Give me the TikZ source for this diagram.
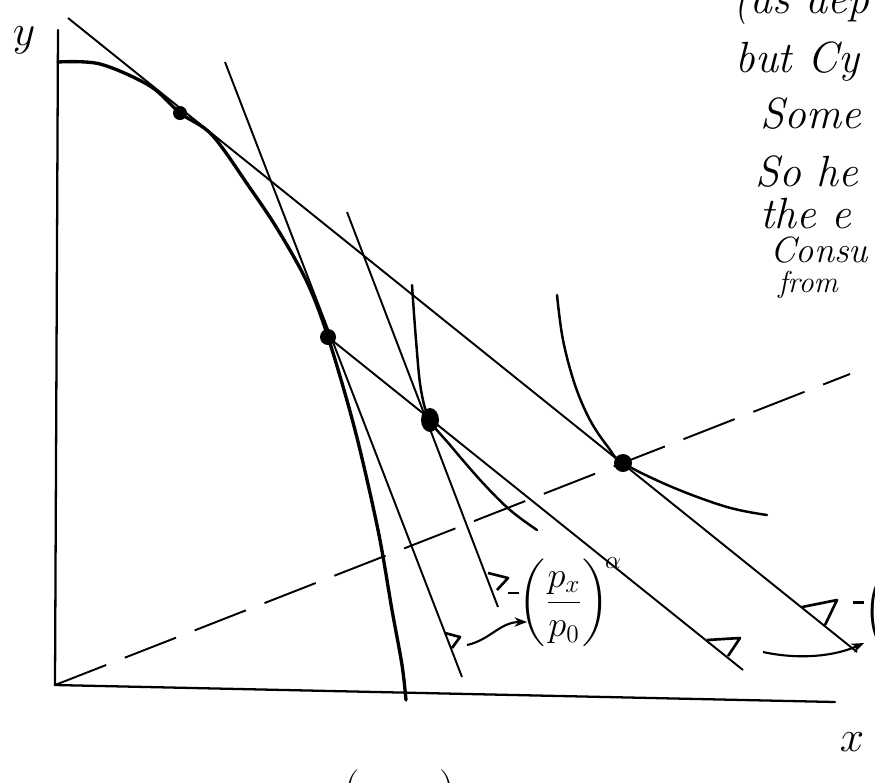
\documentclass[tikz,border=0pt]{standalone}
\usepackage{amsmath}
\usetikzlibrary{arrows.meta}

\begin{document}
\begin{tikzpicture}[
  x=0.02cm, y=-0.02cm,
  axis/.style={line width=1.3pt, line cap=round},
  budget/.style={line width=1.1pt},
  frontier/.style={line width=1.9pt, line cap=round},
  indiff/.style={line width=1.4pt, line cap=round},
  ray/.style={line width=1.1pt, dash pattern=on 1.1cm off 0.4cm},
  slopemark/.style={line width=1.5pt, line join=round},
  pointer/.style={-{Stealth[length=2.5mm]}, line width=1.2pt},
  hand/.style={font=\Huge\itshape, inner sep=0pt, anchor=base west}
]
\useasboundingbox (0,0) rectangle (875,782);

% tangency points
\coordinate (t1) at (180,113);
\coordinate (t2) at (328,337);
\coordinate (t3) at (430,420);
\coordinate (t4) at (623,463);
\coordinate (o) at (55,685);

% axes
\draw[axis] (58,30) -- (o) -- (835,702);
\node[font=\Huge] (ylab) at (24,40) {$y$};
\node[font=\Huge] (xlab) at (852,742) {$x$};

% ray from the origin
\draw[ray] (o) -- (850,374);

% frontier
\draw[frontier] plot[smooth, tension=0.55] coordinates {
  (58,62) (100,64) (150,86) (t1) (212,135) (250,188) (278,230)
  (307,282) (t2) (355,430) (378,530) (392,610) (402,665) (406,700)};

% price lines
\draw[budget] (68,18) -- (857,652);
\draw[budget] (t2) -- (743,670);
\draw[budget] (225,62) -- (462,677);
\draw[budget] (347,212) -- (498,607);

% indifference curves
\draw[indiff] plot[smooth, tension=0.6] coordinates {
  (412,285) (416,340) (421,390) (t3) (450,445) (482,482) (510,510) (537,530)};
\draw[indiff] plot[smooth, tension=0.6] coordinates {
  (557,295) (563,340) (575,385) (590,420) (608,447) (t4) (672,487) (727,507) (767,515)};

% dots
\fill (t1) circle [radius=7];
\fill (t2) circle [radius=8];
\fill (t3) ellipse [x radius=9, y radius=12];
\fill (t4) circle [radius=9];

% slope markers
\draw[slopemark] (488,573) -- (508,578) -- (497,590);
\draw[slopemark] (445,633) -- (460,637) -- (452,648);
\draw[slopemark] (707,640) -- (740,638) -- (728,656);
\draw[slopemark] (802,607) -- (837,600) -- (825,625);

% slope labels
\node[font=\huge, inner sep=0pt] (slope) at (565,602)
  {\rule[10pt]{6pt}{1.3pt}$\left(\dfrac{p_x}{p_0}\right)^{\!\alpha}$};
\node[font=\huge, inner sep=0pt, anchor=west] (slope2) at (853,612)
  {\rule[10pt]{6pt}{1.3pt}$\left(\dfrac{p_x}{p_0}\right)$};
\draw[pointer] (467,645) .. controls (490,640) and (500,622) .. (527,622);
\draw[pointer] (763,652) .. controls (800,660) and (835,656) .. (864,643);

% notes
\node[hand] (n0) at (733,13) {(as dep};
\node[hand] (n1) at (735,72) {but Cy};
\node[hand] (n2) at (760,128) {Some};
\node[hand] (n3) at (755,186) {So he};
\node[hand] (n4) at (760,228) {the e};
\node[hand, font=\huge\itshape] (n5) at (770,262) {Consu};
\node[hand, font=\LARGE\itshape] (n6) at (778,292) {from};

% bottom
\node[font=\Huge] (lp) at (352,792) {(};
\node[font=\Huge] (rp) at (447,792) {)};
\end{tikzpicture}
\end{document}
